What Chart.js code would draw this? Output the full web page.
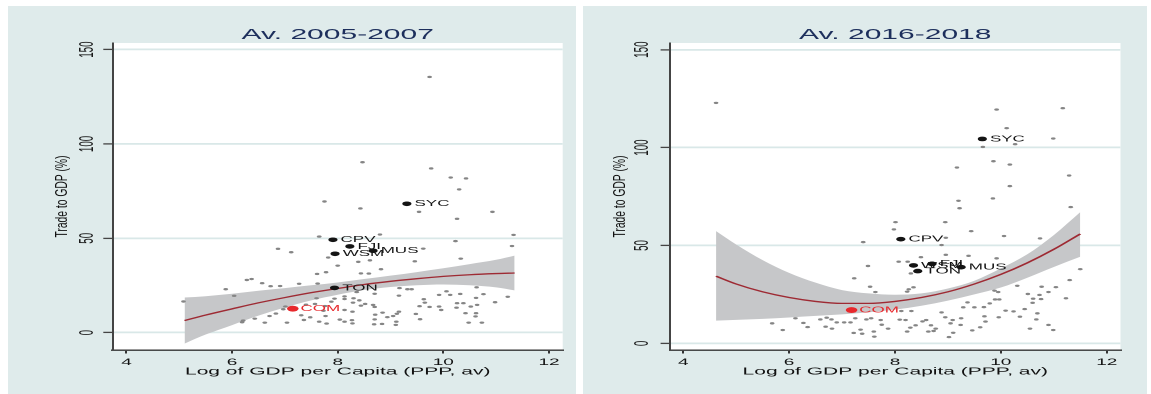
<!DOCTYPE html>
<html>
<head>
<meta charset="utf-8">
<title>Trade to GDP vs log GDP per capita</title>
<script src="https://cdn.jsdelivr.net/npm/chart.js@4.4.1/dist/chart.umd.min.js"></script>
<style>
  html, body { margin: 0; padding: 0; background: #ffffff; }
  body { position: relative; width: 1151px; height: 394px; overflow: hidden; }
  .panel { position: absolute; top: 6px; height: 388px; background: #dfebeb; }
  #panel-left { left: 8px; width: 568px; }
  #panel-right { left: 583px; width: 564px; }
  canvas { display: block; }
</style>
</head>
<body>
<div class="panel" id="panel-left"><canvas id="chart-left" width="284" height="388" style="width:568px;height:388px"></canvas></div>
<div class="panel" id="panel-right"><canvas id="chart-right" width="282" height="388" style="width:564px;height:388px"></canvas></div>
<script>
const FONT = '"Liberation Sans", Arial, Helvetica, sans-serif';
Chart.defaults.font.family = FONT;
Chart.defaults.color = '#111';

const xTicks = [4, 6, 8, 10, 12];
const yTicks = [0, 50, 100, 150];

// Av. 2005-2007
const leftOtherX = [9.74, 8.47, 9.77, 10.14, 10.43, 10.30, 7.75, 8.43, 9.54, 10.93, 10.26, 8.80, 11.33, 7.65, 10.23, 11.30,
  6.87, 9.62, 7.12, 7.82, 10.33, 8.39, 8.61, 9.46, 8.00, 8.82, 7.61, 7.78, 8.44, 8.59, 6.28, 6.37, 6.57, 6.73, 6.91,
  7.27, 7.62, 5.88, 6.04, 9.17, 9.32, 9.40, 10.63, 10.76, 9.16, 9.92, 10.06, 10.13, 10.32, 11.22, 10.62, 9.63, 8.13,
  8.13, 8.30, 8.36, 8.70, 5.08, 7.94, 7.88, 7.60, 7.76, 7.57, 7.01, 7.12, 7.40, 8.29, 8.44, 8.52, 8.67, 8.70, 9.55,
  9.65, 9.74, 9.92, 10.26, 10.38, 10.52, 10.64, 10.25, 10.98, 6.83, 6.71, 6.62, 6.43, 6.21, 6.19, 7.04, 7.31, 7.36,
  7.48, 7.65, 7.79, 7.77, 7.73, 8.13, 8.28, 8.04, 8.13, 8.27, 8.28, 8.71, 8.70, 8.69, 8.85, 8.94, 8.84, 9.05, 9.16,
  9.12, 9.11, 9.10, 9.48, 9.56, 9.96, 10.42, 10.62, 10.61, 10.48, 10.73, 6.97, 8.41];
const leftOtherY = [135.5, 90.3, 87.0, 82.2, 81.7, 75.9, 69.5, 65.8, 64.0, 64.0, 60.3, 52.0, 51.8, 50.9, 48.5, 45.9,
  44.4, 44.5, 42.6, 39.8, 39.2, 37.5, 38.3, 37.8, 35.5, 33.6, 31.1, 32.0, 31.4, 31.3, 27.9, 28.4, 26.2, 24.6, 24.7,
  25.9, 26.0, 23.0, 19.5, 23.6, 23.0, 23.0, 24.0, 20.4, 19.6, 20.0, 21.9, 20.0, 20.5, 19.0, 18.4, 17.7, 19.2,
  17.8, 18.2, 21.5, 20.6, 16.5, 18.0, 16.4, 18.2, 14.1, 15.2, 13.8, 13.4, 14.8, 15.9, 14.3, 15.2, 14.7, 13.6, 14.0,
  15.9, 13.6, 13.8, 15.6, 15.6, 13.8, 14.7, 13.2, 16.1, 10.1, 8.8, 5.3, 7.4, 6.4, 5.5, 5.3, 9.2, 6.7,
  8.1, 5.8, 4.8, 8.8, 11.6, 12.0, 11.1, 6.9, 5.8, 6.6, 4.9, 9.5, 7.0, 4.4, 10.6, 8.2, 4.6, 8.8, 11.1,
  10.0, 5.8, 4.1, 9.9, 7.1, 12.0, 10.3, 10.3, 8.6, 5.3, 5.3, 12.4, 17.1];
const leftKeyNames = ['SYC', 'CPV', 'FJI', 'MUS', 'WSM', 'TON'];
const leftKeyX = [9.31, 7.91, 8.23, 8.67, 7.95, 7.94];
const leftKeyY = [68.3, 49.2, 45.7, 43.4, 41.8, 23.7];
const leftComX = [7.15];
const leftComY = [12.7];
const leftFitX = [5.1, 5.5, 6, 6.5, 7, 7.5, 8, 8.5, 9, 9.5, 10, 10.5, 11, 11.35];
const leftFitY = [6.4, 9.3, 12.6, 15.8, 18.6, 21.2, 23.4, 25.5, 27.2, 28.6, 29.8, 30.7, 31.3, 31.6];
const leftCiLow = [-5.8, -1.0, 4.0, 9.0, 13.3, 17.1, 20.1, 22.6, 24.2, 25.1, 25.5, 25.1, 24.0, 22.4];
const leftCiHigh = [18.6, 19.3, 20.6, 22.2, 23.6, 25.1, 26.6, 28.4, 30.2, 32.1, 34.1, 36.3, 38.6, 40.8];

// Av. 2016-2018
const rightOtherX = [4.62, 9.92, 11.17, 10.11, 10.99, 9.66, 10.27, 9.86, 10.17, 9.17, 10.17, 11.29, 9.85, 9.20, 9.22,
  11.32, 8.01, 7.98, 8.95, 9.44, 10.06, 10.74, 7.40, 8.96, 8.88, 8.49, 8.96, 9.39, 9.92, 7.49, 8.07, 8.24, 8.30,
  11.50, 11.30, 7.23, 7.53, 7.63, 8.26, 8.35, 8.23, 9.88, 9.95, 10.31, 10.51, 10.77, 11.04, 10.90, 10.73, 10.61,
  10.60, 10.76, 9.89, 9.97, 9.79, 9.68, 9.50, 9.29, 9.37, 10.09, 10.24, 10.36, 10.45, 10.69, 10.67, 10.90, 10.99,
  11.23, 10.55, 9.96, 9.69, 9.71, 9.61, 9.46, 9.24, 9.25, 9.09, 8.88, 8.95, 9.05, 9.10, 9.02, 8.77, 8.73, 8.63,
  8.68, 8.52, 8.59, 8.39, 8.29, 8.23, 8.20, 8.09, 8.12, 8.31, 7.87, 7.60, 7.61, 7.38, 7.35, 7.22, 7.46, 7.55, 7.73,
  7.75, 7.25, 7.16, 7.04, 6.90, 6.80, 6.71, 6.59, 6.69, 6.81, 6.35, 6.27, 6.12, 5.88, 5.68];
const rightOtherY = [122.8, 119.4, 120.1, 109.9, 104.6, 100.3, 101.7, 93.0, 91.3, 89.8, 80.3, 85.7, 74.0, 72.8, 69.0,
  69.6, 61.9, 58.2, 61.9, 57.3, 54.8, 53.6, 51.7, 53.9, 50.2, 44.0, 45.2, 44.7, 43.4, 39.5, 41.7, 41.7, 35.7,
  37.9, 32.3, 33.2, 28.9, 26.2, 27.6, 28.6, 26.4, 26.9, 26.2, 29.4, 25.2, 28.9, 28.7, 26.2, 24.7, 22.8,
  20.7, 22.6, 22.4, 22.4, 20.4, 18.5, 18.4, 18.4, 20.9, 16.7, 16.3, 13.6, 17.5, 15.3, 12.2, 9.4, 6.8,
  23.0, 7.5, 13.3, 13.8, 11.1, 8.2, 6.6, 9.4, 12.8, 11.9, 15.8, 13.3, 10.2, 5.4, 3.2, 7.5, 6.3, 6.0,
  9.2, 11.2, 11.9, 9.2, 8.0, 6.0, 11.9, 12.1, 16.5, 16.5, 7.5, 6.0, 3.4, 4.9, 7.0, 5.3, 12.2, 12.8, 11.9,
  9.5, 12.8, 10.7, 10.7, 10.7, 12.2, 13.1, 12.2, 8.5, 7.5, 8.3, 10.4, 12.8, 6.8, 10.2];
const rightKeyNames = ['SYC', 'CPV', 'WSM', 'FJI', 'MUS', 'TON'];
const rightKeyX = [9.65, 8.11, 8.35, 8.70, 9.25, 8.43];
const rightKeyY = [104.4, 53.2, 39.8, 40.6, 38.9, 36.9];
const rightComX = [7.18];
const rightComY = [17.0];
const rightFitX = [4.62, 5, 5.5, 6, 6.5, 7, 7.5, 8, 8.5, 9, 9.5, 10, 10.5, 11, 11.5];
const rightFitY = [34.3, 30.3, 26.3, 23.4, 21.4, 20.4, 20.4, 21.4, 23.4, 26.3, 30.3, 35.2, 41.1, 48.0, 55.9];
const rightCiLow = [11.6, 12.0, 12.5, 13.2, 14.0, 14.8, 15.8, 17.2, 19.2, 21.8, 25.0, 28.5, 33.5, 39.0, 44.2];
const rightCiHigh = [57.3, 50.5, 42.5, 36.0, 31.0, 27.2, 25.5, 24.8, 25.5, 28.0, 32.0, 38.3, 45.5, 55.3, 67.0];

function pts(xs, ys) {
    return xs.map((x, i) => ({ x: x, y: ys[i] }));
}

// white plot region, marker labels, rotated y tick labels and y title
const panelPlugin = {
    id: 'panel',
    beforeDraw(chart) {
        const { ctx, chartArea: a } = chart;
        ctx.save();
        ctx.fillStyle = '#ffffff';
        ctx.fillRect(a.left, a.top, a.right - a.left, a.bottom - a.top);
        ctx.restore();
    },
    afterDatasetsDraw(chart) {
        const ctx = chart.ctx;
        chart.data.datasets.forEach((ds, i) => {
            if (!ds.names) return;
            const meta = chart.getDatasetMeta(i);
            ctx.save();
            ctx.font = '8.5px ' + FONT;
            ctx.fillStyle = ds.labelColor;
            ctx.textBaseline = 'middle';
            meta.data.forEach((pt, j) => ctx.fillText(ds.names[j], pt.x + 3.8, pt.y));
            ctx.restore();
        });
    },
    afterDraw(chart, args, opts) {
        const ctx = chart.ctx;
        const y = chart.scales.y;
        ctx.save();
        ctx.fillStyle = '#1a1a1a';
        ctx.font = '9.8px ' + FONT;
        ctx.textAlign = 'center';
        ctx.textBaseline = 'middle';
        y.ticks.forEach(t => {
            ctx.save();
            ctx.translate(y.right - opts.tickGap, y.getPixelForValue(t.value));
            ctx.rotate(-Math.PI / 2);
            ctx.fillText(String(t.value), 0, 0);
            ctx.restore();
        });
        // axis title is less stretched than the rest in the original
        ctx.translate(opts.titleX, (chart.chartArea.top + chart.chartArea.bottom) / 2);
        ctx.rotate(-Math.PI / 2);
        ctx.scale(1, 0.8);
        ctx.fillStyle = '#111';
        ctx.font = '10.3px ' + FONT;
        ctx.fillText('Trade to GDP (%)', 0, 0);
        ctx.restore();
    }
};

function makePanel(canvasId, d) {
    return new Chart(document.getElementById(canvasId), {
        type: 'line',
        data: {
            datasets: [
                { data: pts(d.otherX, d.otherY), showLine: false, pointRadius: 1.2, pointBackgroundColor: '#858585', pointBorderWidth: 0, order: 2 },
                { data: pts(d.keyX, d.keyY), names: d.keyNames, labelColor: '#141414', showLine: false, pointRadius: 2.3, pointBackgroundColor: '#141414', pointBorderWidth: 0, order: 1 },
                { data: pts(d.comX, d.comY), names: ['COM'], labelColor: '#e8282c', showLine: false, pointRadius: 2.9, pointBackgroundColor: '#e8282c', pointBorderWidth: 0, order: 0 },
                { data: pts(d.fitX, d.ciLow), borderColor: 'rgba(0,0,0,0)', pointRadius: 0, fill: false, cubicInterpolationMode: 'monotone', order: 5 },
                { data: pts(d.fitX, d.ciHigh), borderColor: 'rgba(0,0,0,0)', backgroundColor: '#c6c7c9', pointRadius: 0, fill: 3, cubicInterpolationMode: 'monotone', order: 4 },
                { data: pts(d.fitX, d.fitY), borderColor: '#9e2a33', borderWidth: 1.3, pointRadius: 0, fill: false, cubicInterpolationMode: 'monotone', order: 3 }
            ]
        },
        options: {
            responsive: false,
            devicePixelRatio: 2,
            animation: false,
            events: [],
            layout: { padding: { left: 0, right: d.padRight, top: 0, bottom: 0 } },
            scales: {
                x: {
                    type: 'linear',
                    min: d.xMin,
                    max: d.xMax,
                    afterBuildTicks: s => { s.ticks = xTicks.map(v => ({ value: v })); },
                    afterFit: s => { s.height = 44; },
                    grid: { drawOnChartArea: false, drawTicks: true, tickLength: 3.5, tickColor: '#333', tickWidth: 1 },
                    border: { color: '#333', width: 1.4 },
                    ticks: { padding: 3, maxRotation: 0, color: '#111', font: { size: 9.5 } },
                    title: {
                        display: true,
                        text: 'Log of GDP per Capita (PPP, av)',
                        color: '#111',
                        font: { size: 10.5 },
                        padding: { top: 0, bottom: 16 }
                    }
                },
                y: {
                    type: 'linear',
                    min: d.yMin,
                    max: d.yMax,
                    afterBuildTicks: s => { s.ticks = yTicks.map(v => ({ value: v })); },
                    afterFit: s => { s.width = d.axisLeft; },
                    grid: { color: '#d9e8e8', lineWidth: 1.8, tickLength: 4.7, tickColor: '#444', tickWidth: 1.3 },
                    border: { color: '#444', width: 1 },
                    ticks: { display: false }
                }
            },
            plugins: {
                legend: { display: false },
                tooltip: { enabled: false },
                title: {
                    display: true,
                    fullSize: false,
                    text: d.title,
                    color: '#1d2f5c',
                    font: { size: 15, weight: 'normal' },
                    padding: { top: 20, bottom: -1 }
                },
                panel: { tickGap: d.tickGap, titleX: d.titleX }
            }
        },
        plugins: [panelPlugin]
    });
}

makePanel('chart-left', {
    title: 'Av. 2005-2007',
    otherX: leftOtherX, otherY: leftOtherY,
    keyNames: leftKeyNames, keyX: leftKeyX, keyY: leftKeyY,
    comX: leftComX, comY: leftComY,
    fitX: leftFitX, fitY: leftFitY, ciLow: leftCiLow, ciHigh: leftCiHigh,
    xMin: 3.74, xMax: 12.26, yMin: -9.2, yMax: 153.5,
    axisLeft: 52.35, padRight: 6.65, tickGap: 12.5, titleX: 27.3
});

makePanel('chart-right', {
    title: 'Av. 2016-2018',
    otherX: rightOtherX, otherY: rightOtherY,
    keyNames: rightKeyNames, keyX: rightKeyX, keyY: rightKeyY,
    comX: rightComX, comY: rightComY,
    fitX: rightFitX, fitY: rightFitY, ciLow: rightCiLow, ciHigh: rightCiHigh,
    xMin: 3.75, xMax: 12.26, yMin: -3.4, yMax: 153.4,
    axisLeft: 43.5, padRight: 13.25, tickGap: 13.5, titleX: 18.9
});
</script>
</body>
</html>
